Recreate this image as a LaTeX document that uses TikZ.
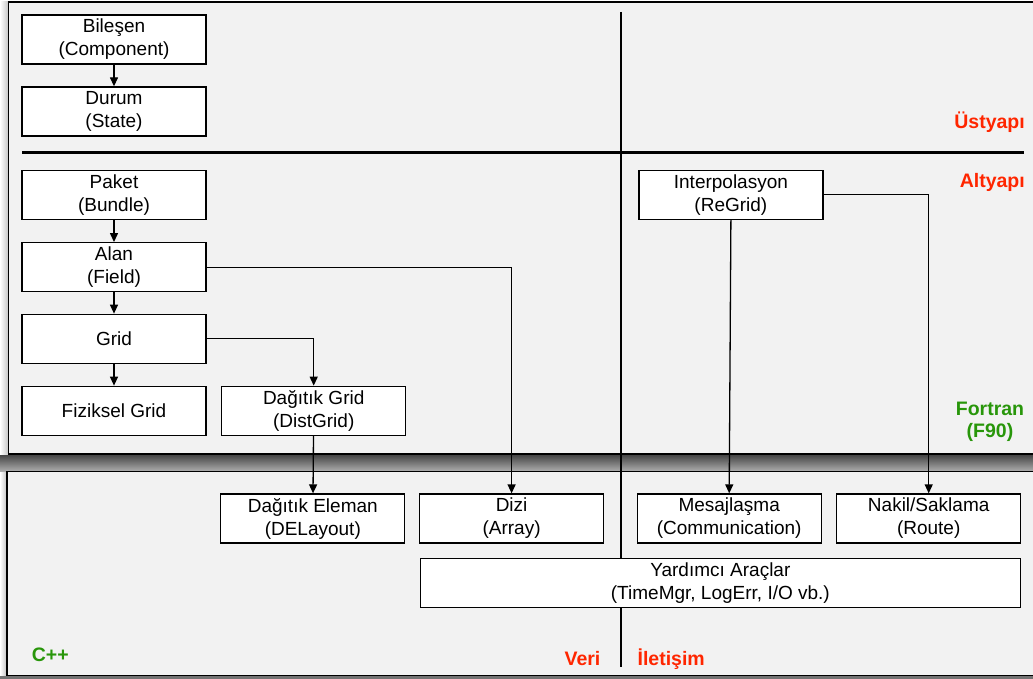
\documentclass[tikz,border=0pt]{standalone}
\usepackage{fontspec}
\setmainfont{Liberation Sans}
\usetikzlibrary{arrows.meta}
\definecolor{panelfill}{HTML}{F2F2F2}
\definecolor{lblred}{RGB}{255,38,0}
\definecolor{lblgreen}{RGB}{40,150,10}
\begin{document}
\begin{tikzpicture}[x=1pt,y=-1pt,
  panel/.style={draw=black, line width=1.5pt, fill=panelfill},
  divider/.style={draw=black, line width=2.5pt},
  box/.style={draw=black, line width=1.3pt, fill=white, minimum width=184pt,
    minimum height=49pt, inner sep=0pt, align=center,
    font=\fontsize{19}{23}\selectfont},
  link/.style={draw=black, line width=1.3pt, -{Triangle[length=9pt,width=8pt]}},
  layer/.style={text=lblred, font=\fontsize{19.5}{22}\selectfont\bfseries, inner sep=0pt},
  lang/.style={text=lblgreen, font=\fontsize{19.5}{22}\selectfont\bfseries, inner sep=0pt, align=center}]

\useasboundingbox (0,0) rectangle (1033,679);
\clip (0,0) rectangle (1033,679);
\fill[white] (0,0) rectangle (1033,679);

% soft shadows around the two panels
\shade[top color=black!75, bottom color=black!30] (0,454) rectangle (1033,472);
\shade[left color=white, right color=black!25] (0,2) rectangle (9,454);
\shade[left color=white, right color=black!25] (0,472) rectangle (7,676);
\fill[black!55] (0,675.5) rectangle (1033,679);

% Fortran layer and C++ layer panels
\path[panel] (8.7,2) rectangle (1045,454);
\path[panel] (7,471.7) rectangle (1045,675.5);

% layer dividers
\path[divider] (22,152.7) -- (1024,152.7);
\path[divider] (621,12) -- (621,667);

% components
\node[box] (comp)   at (114,39.5)  {Bileşen\\(Component)};
\node[box] (state)  at (114,111.5) {Durum\\(State)};
\node[box] (bundle) at (114,195)   {Paket\\(Bundle)};
\node[box] (field)  at (114,267.2) {Alan\\(Field)};
\node[box] (grid)   at (114,338.8) {Grid};
\node[box] (phys)   at (114,410.8) {Fiziksel Grid};
\node[box] (dist)   at (313.7,410.8) {Dağıtık Grid\\(DistGrid)};
\node[box] (interp) at (730.9,194.8) {Interpolasyon\\(ReGrid)};

\node[box] (delay)  at (312.8,518.5) {Dağıtık Eleman\\(DELayout)};
\node[box] (array)  at (511.6,518.5) {Dizi\\(Array)};
\node[box] (comm)   at (729.2,518.5) {Mesajlaşma\\(Communication)};
\node[box] (route)  at (928.7,518.5) {Nakil/Saklama\\(Route)};
\node[box, minimum width=600.3pt] (util) at (720.35,583) {Yardımcı Araçlar\\(TimeMgr, LogErr, I/O vb.)};

% dependencies
\draw[link] (comp) -- (state);
\draw[link] (bundle) -- (field);
\draw[link] (field) -- (grid);
\draw[link] (grid) -- (phys);
\draw[link] (grid.east) -| (dist.north);
\draw[link] (field.east) -| (array.north);
\draw[link] (dist) -- (delay);
\draw[link] (interp.south) -- (comm.north);
\draw[link] (interp.east) -| (route.north);

% layer labels
\node[layer, anchor=base east] (ust) at (1025,129) {Üstyapı};
\node[layer, anchor=base east] (alt) at (1025,188) {Altyapı};
\node[lang, anchor=base] (fortran) at (990,437.5) {Fortran\\(F90)};
\node[lang, anchor=base west] (cpp) at (31.7,661.7) {C++};
\node[layer, anchor=base east] (veri) at (600.6,665) {Veri};
\node[layer, anchor=base west] (ilet) at (637.4,665) {İletişim};
\end{tikzpicture}
\end{document}
